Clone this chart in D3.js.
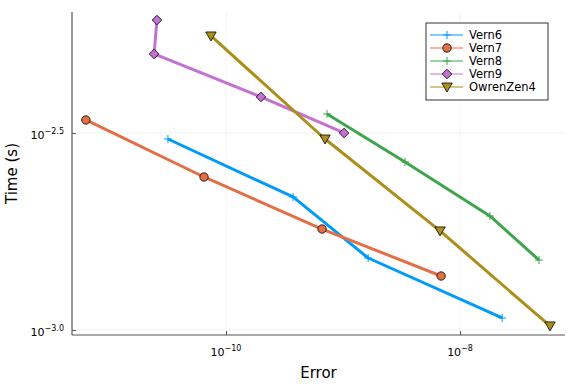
<!DOCTYPE html>
<html>
<head>
<meta charset="utf-8">
<script src="https://cdn.jsdelivr.net/npm/d3@7"></script>
<style>
  body { margin: 0; background: #fff; }
  svg { display: block; font-family: "DejaVu Sans", sans-serif; }
</style>
</head>
<body>
<div id="chart"></div>
<script>
// data (error, time in seconds)
var seriesNames = ["Vern6", "Vern7", "Vern8", "Vern9", "OwrenZen4"];
var vern6Err = [3.19e-11, 3.74e-10, 1.64e-9, 2.29e-8];
var vern6Time = [0.003053, 0.002176, 0.001523, 0.001073];
var vern7Err = [6.35e-12, 6.49e-11, 6.62e-10, 6.89e-9];
var vern7Time = [0.003412, 0.002445, 0.001804, 0.001371];
var vern8Err = [7.3e-10, 3.39e-9, 1.80e-8, 4.73e-8];
var vern8Time = [0.003534, 0.002669, 0.001947, 0.001505];
var vern9Err = [2.57e-11, 2.43e-11, 1.99e-10, 1.02e-9];
var vern9Time = [0.006118, 0.005018, 0.003903, 0.003162];
var owrenErr = [7.44e-11, 7.02e-10, 6.75e-9, 5.87e-8];
var owrenTime = [0.005574, 0.003053, 0.001784, 0.001024];

var xTickExp = ["−10", "−8"];
var xTickVals = [1e-10, 1e-8];
var yTickExp = ["−2.5", "−3.0"];
var yTickVals = [Math.pow(10, -2.5), 1e-3];

var colors = ["#009AFA", "#E36F47", "#3EA44E", "#C371D2", "#AC8E18"];
var markers = ["cross", "circle", "cross", "diamond", "triangle"];

var width = 576, height = 384;
var plotLeft = 72, plotRight = 565, plotTop = 12, plotBottom = 335;

var svg = d3.select("#chart").append("svg")
    .attr("width", width).attr("height", height);

var x = d3.scaleLog()
    .domain([Math.pow(10, -11.316), Math.pow(10, -7.103)])
    .range([plotLeft, plotRight]);
var y = d3.scaleLog()
    .domain([Math.pow(10, -3.0127), Math.pow(10, -2.193)])
    .range([plotBottom, plotTop]);

// grid
svg.selectAll("line.gx").data(xTickVals).enter().append("line")
    .attr("x1", d => x(d)).attr("x2", d => x(d))
    .attr("y1", plotTop).attr("y2", plotBottom)
    .attr("stroke", "#000").attr("stroke-opacity", 0.1).attr("stroke-width", 0.5);
svg.selectAll("line.gy").data(yTickVals).enter().append("line")
    .attr("y1", d => y(d)).attr("y2", d => y(d))
    .attr("x1", plotLeft).attr("x2", plotRight)
    .attr("stroke", "#000").attr("stroke-opacity", 0.1).attr("stroke-width", 0.5);

// axes
var xAxis = d3.axisBottom(x).tickValues(xTickVals).tickSize(-4).tickFormat("");
var yAxis = d3.axisLeft(y).tickValues(yTickVals).tickSize(-4).tickFormat("");
svg.append("g").attr("transform", "translate(0," + plotBottom + ")").call(xAxis)
    .call(g => g.select(".domain").attr("d", "M" + plotLeft + ",0H" + plotRight).attr("stroke", "#555").attr("stroke-width", 1.2))
    .call(g => g.selectAll(".tick line").attr("stroke", "#555"));
svg.append("g").attr("transform", "translate(" + plotLeft + ",0)").call(yAxis)
    .call(g => g.select(".domain").attr("d", "M0," + plotBottom + "V" + plotTop).attr("stroke", "#555").attr("stroke-width", 1.2))
    .call(g => g.selectAll(".tick line").attr("stroke", "#555"));

// tick labels with superscripts
function powLabel(sel, exp) {
  sel.append("tspan").text("10");
  sel.append("tspan").attr("dy", -5).attr("font-size", 8).text(exp);
}
xTickVals.forEach(function (v, i) {
  var t = svg.append("text").attr("x", x(v)).attr("y", 356)
      .attr("text-anchor", "middle").attr("font-size", 11).attr("fill", "#000");
  powLabel(t, xTickExp[i]);
});
yTickVals.forEach(function (v, i) {
  var t = svg.append("text").attr("x", 64).attr("y", y(v) + 6)
      .attr("text-anchor", "end").attr("font-size", 11).attr("fill", "#000");
  powLabel(t, yTickExp[i]);
});

// axis titles
svg.append("text").attr("x", (plotLeft + plotRight) / 2).attr("y", 378)
    .attr("text-anchor", "middle").attr("font-size", 15).text("Error");
svg.append("text").attr("transform", "translate(17," + ((plotTop + plotBottom) / 2) + ") rotate(-90)")
    .attr("text-anchor", "middle").attr("font-size", 15).text("Time (s)");

var allErr = [vern6Err, vern7Err, vern8Err, vern9Err, owrenErr];
var allTime = [vern6Time, vern7Time, vern8Time, vern9Time, owrenTime];

var line = d3.line().x(d => x(d[0])).y(d => y(d[1]));

function drawMarker(g, kind, cx, cy, color) {
  if (kind === "circle") {
    g.append("circle").attr("cx", cx).attr("cy", cy).attr("r", 4.2)
        .attr("fill", color).attr("stroke", "#000").attr("stroke-width", 0.8);
  } else if (kind === "cross") {
    g.append("path").attr("d", "M" + (cx - 4) + "," + cy + "H" + (cx + 4) + "M" + cx + "," + (cy - 4) + "V" + (cy + 4))
        .attr("stroke", color).attr("stroke-width", 1).attr("fill", "none");
  } else if (kind === "diamond") {
    var s = 4.8;
    g.append("path").attr("d", "M" + cx + "," + (cy - s) + "L" + (cx + s) + "," + cy + "L" + cx + "," + (cy + s) + "L" + (cx - s) + "," + cy + "Z")
        .attr("fill", color).attr("stroke", "#000").attr("stroke-width", 0.8);
  } else if (kind === "triangle") {
    var w = 5.2;
    g.append("path").attr("d", "M" + (cx - w) + "," + (cy - 4) + "L" + (cx + w) + "," + (cy - 4) + "L" + cx + "," + (cy + 5) + "Z")
        .attr("fill", color).attr("stroke", "#000").attr("stroke-width", 0.8);
  }
}

var plot = svg.append("g");
seriesNames.forEach(function (name, i) {
  var pts = allErr[i].map((e, j) => [e, allTime[i][j]]);
  plot.append("path").datum(pts).attr("d", line)
      .attr("fill", "none").attr("stroke", colors[i]).attr("stroke-width", 3)
      .attr("stroke-linejoin", "round");
  var mg = plot.append("g");
  pts.forEach(function (p) { drawMarker(mg, markers[i], x(p[0]), y(p[1]), colors[i]); });
});

// legend
var lg = svg.append("g");
lg.append("rect").attr("x", 426).attr("y", 23).attr("width", 122).attr("height", 77)
    .attr("fill", "#fff").attr("stroke", "#000").attr("stroke-width", 0.8);
seriesNames.forEach(function (name, i) {
  var ly = 35 + i * 13;
  lg.append("line").attr("x1", 430).attr("x2", 463).attr("y1", ly).attr("y2", ly)
      .attr("stroke", colors[i]).attr("stroke-width", 1);
  drawMarker(lg, markers[i], 447, ly, colors[i]);
  lg.append("text").attr("x", 469).attr("y", ly + 4).attr("font-size", 11.5).text(name);
});
</script>
</body>
</html>
